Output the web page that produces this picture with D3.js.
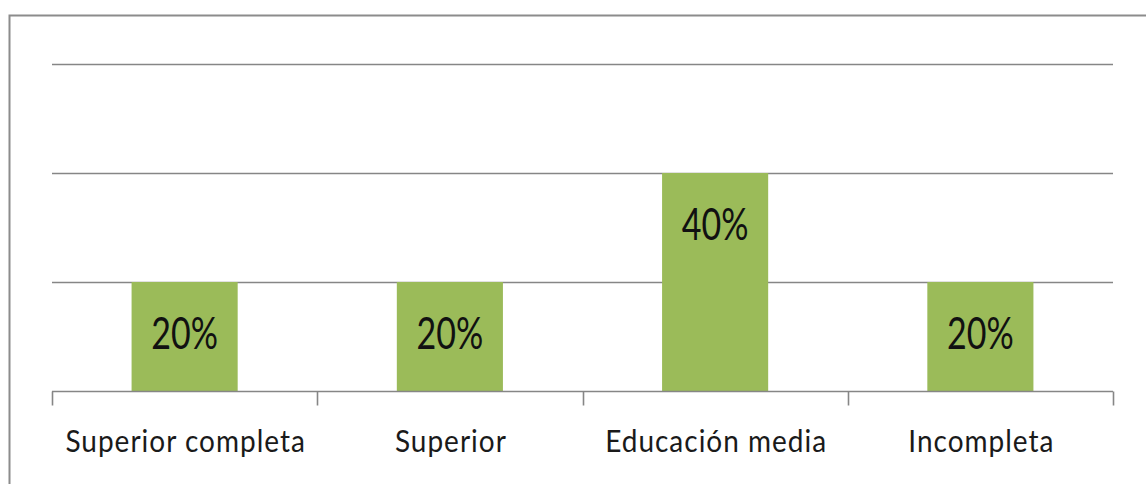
<!DOCTYPE html>
<html><head><meta charset="utf-8">
<script src="https://cdn.jsdelivr.net/npm/d3@7"></script>
<style>html,body{margin:0;padding:0;background:#fff;}svg{display:block;}</style>
</head><body>
<svg id="c" width="1146" height="484"></svg>
<script>
const categories = ["Superior completa", "Superior", "Educación media", "Incompleta"];
const values = [20, 20, 40, 20];
const valueLabels = ["20%", "20%", "40%", "20%"];
const gridTicks = [20, 40, 60];

const svg = d3.select("#c");
const W = 1146, H = 484;
const m = {left: 52, right: 33, top: 64, bottom: 93};
const x = d3.scaleBand().domain(categories).range([m.left, W - m.right]).paddingInner(0.6).paddingOuter(0.3);
const xEdge = d3.scaleLinear().domain([0, categories.length]).range([m.left, W - m.right]);
const y = d3.scaleLinear().domain([0, 60]).range([H - m.bottom, m.top]);

// frame
svg.append("path").attr("d", `M9.5,${H+5} L9.5,15.5 L${W+5},15.5`)
  .attr("fill", "none").attr("stroke", "#8c8c8c").attr("stroke-width", 2);

// gridlines
svg.append("g").selectAll("line").data(gridTicks).join("line")
  .attr("x1", m.left).attr("x2", W - m.right)
  .attr("y1", d => Math.round(y(d)) + 0.5).attr("y2", d => Math.round(y(d)) + 0.5)
  .attr("stroke", "#868686").attr("stroke-width", 1.6);

// bars
svg.append("g").selectAll("rect").data(values).join("rect")
  .attr("x", (d, i) => x(categories[i]))
  .attr("width", x.bandwidth())
  .attr("y", d => y(d))
  .attr("height", d => y(0) - y(d))
  .attr("fill", "#9bbb59");

// axis
const ax = svg.append("g").attr("transform", `translate(0,${Math.round(y(0)) + 0.5})`);
ax.append("line").attr("x1", m.left).attr("x2", W - m.right).attr("stroke", "#868686").attr("stroke-width", 1.6);
ax.selectAll("line.tick").data(d3.range(categories.length + 1)).join("line").attr("class", "tick")
  .attr("x1", d => Math.round(xEdge(d)) + 0.5).attr("x2", d => Math.round(xEdge(d)) + 0.5)
  .attr("y1", 0).attr("y2", 14).attr("stroke", "#868686").attr("stroke-width", 1.6);

// category labels
svg.append("g").selectAll("text").data(categories).join("text")
  .attr("transform", d => `translate(${x(d) + x.bandwidth() / 2 + 1},452) scale(1,1.12)`)
  .attr("text-anchor", "middle")
  .attr("letter-spacing", 1)
  .attr("font-family", "Lato, 'Open Sans', sans-serif")
  .attr("font-size", 28).attr("fill", "#1a1a1a")
  .text(d => d);

// value labels
svg.append("g").selectAll("text").data(values).join("text")
  .attr("transform", (d, i) => `translate(${x(categories[i]) + x.bandwidth() / 2},${y(d) + 67}) scale(1,1.3)`)
  .attr("text-anchor", "middle")
  .attr("font-family", "Lato, 'Open Sans', sans-serif")
  .attr("font-size", 34).attr("fill", "#111")
  .text((d, i) => valueLabels[i]);
</script>
</body></html>
